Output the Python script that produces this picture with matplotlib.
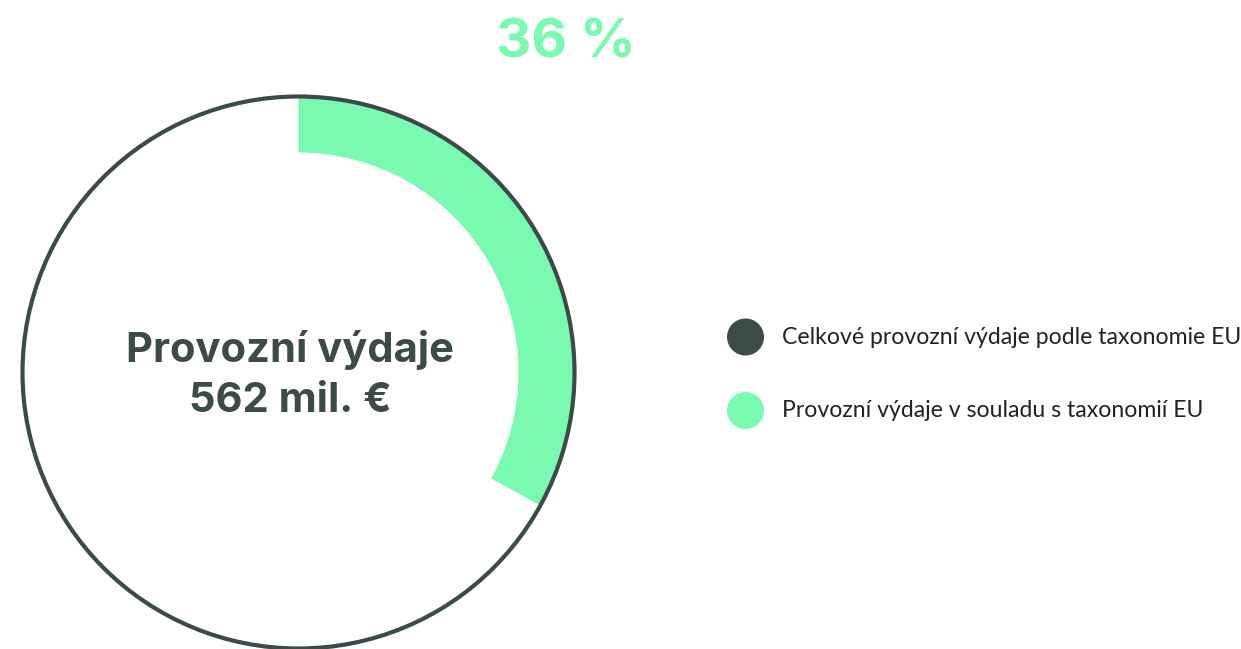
import matplotlib.pyplot as plt
from matplotlib.patches import Circle, Wedge

# data
total_label = "Provozní výdaje\n562 mil. €"
aligned_pct = 36
legend_labels = ["Celkové provozní výdaje podle taxonomie EU",
                 "Provozní výdaje v souladu s taxonomií EU"]

dark = "#3c4a48"
green = "#7af9b0"

W, H = 1241, 649
fig = plt.figure(figsize=(W / 100, H / 100), dpi=100)
ax = fig.add_axes([0, 0, 1, 1])
ax.set_xlim(0, W)
ax.set_ylim(H, 0)
ax.set_aspect("equal")
ax.axis("off")

# gauge geometry (pixel units, y downward)
cx, cy, r = 298.5, 372.5, 276
ring = 56
sweep = 330  # full gauge sweep in degrees

# green arc, clockwise from 12 o'clock; y axis is inverted so angles flip
ang = aligned_pct / 100 * sweep
ax.add_patch(Wedge((cx, cy), r, 270, 270 + ang, width=ring,
                   facecolor=green, edgecolor="none"))
ax.add_patch(Circle((cx, cy), r, facecolor="none", edgecolor=dark, lw=3))

ax.text(cx - 8, cy + 2, total_label, ha="center", va="center",
        fontsize=30, fontweight="bold", color=dark, linespacing=1.4,
        family=["Inter", "DejaVu Sans"])
ax.text(566, 44, f"{aligned_pct} %", ha="center", va="center",
        fontsize=39.5, fontweight="bold", color=green,
        family=["Inter", "DejaVu Sans"])

# legend
for i, (lab, col) in enumerate(zip(legend_labels, [dark, green])):
    y = 337 + i * 73.5
    ax.add_patch(Circle((745.5, y), 18.5, facecolor=col, edgecolor="none"))
    ax.text(782, y, lab, ha="left", va="center", fontsize=16.6,
            color="#222222", family=["Lato", "DejaVu Sans"])

fig.savefig("out.png", dpi=100)
